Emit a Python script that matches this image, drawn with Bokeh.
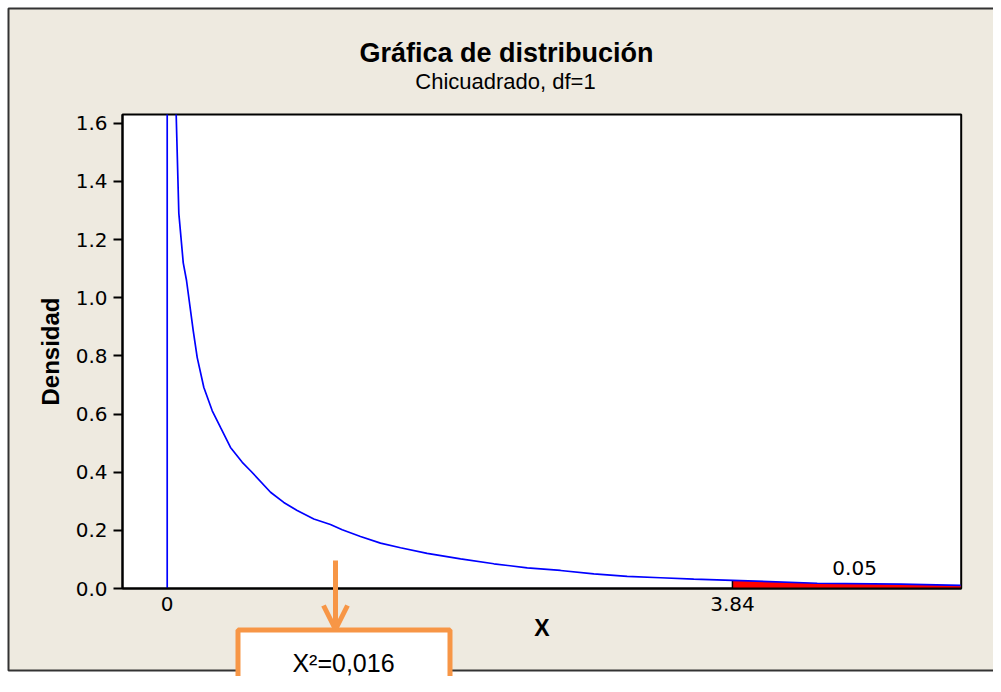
from bokeh.plotting import figure
from bokeh.models import (Range1d, FixedTicker, BoxAnnotation, Label, Arrow, OpenHead)
from bokeh.core.properties import value
from bokeh.embed import file_html
from bokeh.resources import INLINE

# ---------------- data ----------------
TITLE = "Gráfica de distribución"
SUBTITLE = "Chicuadrado, df=1"
X_LABEL = "X"
Y_LABEL = "Densidad"

CURVE_X = [0.061, 0.079, 0.109, 0.131, 0.177, 0.204, 0.249, 0.306, 0.363, 0.430,
           0.510, 0.566, 0.702, 0.792, 0.883, 0.996, 1.109, 1.189, 1.313, 1.449,
           1.585, 1.766, 1.993, 2.219, 2.446, 2.672, 2.898, 3.125, 3.351, 3.577,
           3.84, 4.416, 4.982, 5.39]
CURVE_Y = [1.63, 1.29, 1.12, 1.06, 0.886, 0.794, 0.691, 0.611, 0.553, 0.485,
           0.434, 0.405, 0.331, 0.296, 0.268, 0.239, 0.220, 0.202, 0.179, 0.156,
           0.140, 0.121, 0.102, 0.085, 0.071, 0.062, 0.050, 0.042, 0.037, 0.032,
           0.028, 0.018, 0.015, 0.011]

CRITICAL = 3.84
TAIL_PROB = "0.05"
TAIL_LABEL_X = 4.67
TAIL_LABEL_Y = 0.07
ZERO_LINE_X = [0, 0]
ZERO_LINE_Y = [0, 1.63]

X_TICKS = [0, 3.84]
X_TICK_LABELS = ["0", "3.84"]
Y_TICKS = [0.0, 0.2, 0.4, 0.6, 0.8, 1.0, 1.2, 1.4, 1.6]
Y_TICK_LABELS = ["0.0", "0.2", "0.4", "0.6", "0.8", "1.0", "1.2", "1.4", "1.6"]

NOTE_TEXT = "X²=0,016"

# ---------------- layout / style ----------------
W, H = 993, 676
X0_PX, X_SCALE = 166.7, 147.2      # pixel of x=0, pixels per unit
Y0_PX, Y_SCALE = 588.0, 290.8      # pixel of y=0, pixels per unit
BEIGE = "#EEEAE0"
ORANGE = "#F79646"
FONT = "Liberation Sans"
TICK_FONT = "DejaVu Sans"


def X(px):
    return (px - X0_PX) / X_SCALE


def Y(py):
    return (Y0_PX - py) / Y_SCALE


PLOT_X0, PLOT_X1 = X(122), X(960.7)
PLOT_Y0, PLOT_Y1 = 0.0, Y(114)

p = figure(width=W, height=H, output_backend="svg", toolbar_location=None,
           x_range=Range1d(X(0), X(W)), y_range=Range1d(Y(H), Y(0)),
           min_border=0, min_border_left=0, min_border_right=0,
           min_border_top=0, min_border_bottom=0)
p.border_fill_color = "white"
p.background_fill_color = "white"
p.outline_line_color = None
p.grid.visible = False

# beige panel with dark border, then white plot area
p.add_layout(BoxAnnotation(left=X(8), right=X(1030), top=Y(8), bottom=Y(670),
                           fill_color=BEIGE, fill_alpha=1, line_color="#333333",
                           line_width=2, line_alpha=1, level="underlay"))
p.add_layout(BoxAnnotation(left=PLOT_X0, right=PLOT_X1, top=PLOT_Y1, bottom=PLOT_Y0,
                           fill_color="white", fill_alpha=1, line_color="black",
                           line_width=2, line_alpha=1, level="underlay"))

# axes
for ax in (p.xaxis[0], p.yaxis[0]):
    ax.axis_line_color = "black"
    ax.axis_line_width = 2
    ax.major_tick_line_color = "black"
    ax.major_tick_line_width = 2
    ax.minor_tick_line_color = None
    ax.major_label_text_font = TICK_FONT
    ax.major_label_text_font_size = "20px"
    ax.major_label_text_color = "black"
    ax.axis_label_text_font = FONT
    ax.axis_label_text_font_style = "bold"
    ax.axis_label_text_color = "black"

p.yaxis.fixed_location = PLOT_X0
p.yaxis.bounds = (PLOT_Y0, PLOT_Y1)
p.yaxis.ticker = FixedTicker(ticks=Y_TICKS)
p.yaxis.major_label_overrides = {t: l for t, l in zip(Y_TICKS, Y_TICK_LABELS)}
p.yaxis.major_tick_out = 9
p.yaxis.major_tick_in = 0
p.yaxis.major_label_standoff = 6
p.yaxis.axis_label = Y_LABEL
p.yaxis.axis_label_text_font_size = "24px"
p.yaxis.axis_label_standoff = 9

p.xaxis.fixed_location = PLOT_Y0
p.xaxis.bounds = (PLOT_X0, PLOT_X1)
p.xaxis.ticker = FixedTicker(ticks=X_TICKS)
p.xaxis.major_label_overrides = {t: l for t, l in zip(X_TICKS, X_TICK_LABELS)}
p.xaxis.major_tick_out = 0
p.xaxis.major_tick_in = 0
p.xaxis.major_label_standoff = 8
p.xaxis.axis_label = X_LABEL
p.xaxis.axis_label_text_font_size = "23px"
p.xaxis.axis_label_standoff = 1

# tail area
tail_x = [x for x in CURVE_X if x >= CRITICAL]
tail_y = [y for x, y in zip(CURVE_X, CURVE_Y) if x >= CRITICAL]
p.varea(x=tail_x, y1=[0] * len(tail_x), y2=tail_y, fill_color="red")
p.segment(x0=[CRITICAL], y0=[0], x1=[CRITICAL], y1=[tail_y[0]],
          line_color="black", line_width=1.5)

# curve
p.line(ZERO_LINE_X, ZERO_LINE_Y, line_color="#0000FF", line_width=1.7)
p.line(CURVE_X, CURVE_Y, line_color="#0000FF", line_width=1.7)

p.text(x=[TAIL_LABEL_X], y=[TAIL_LABEL_Y], text=[TAIL_PROB],
       text_font=value(TICK_FONT), text_font_size="20px",
       text_align="center", text_baseline="middle", text_color="black")

# title
p.add_layout(Label(x=X(506), y=Y(52), text=TITLE, text_font=FONT,
                   text_font_size="27px", text_font_style="bold",
                   text_align="center", text_baseline="middle", text_color="black"))
p.add_layout(Label(x=X(505), y=Y(81), text=SUBTITLE, text_font=FONT,
                   text_font_size="22px", text_align="center",
                   text_baseline="middle", text_color="black"))

# orange note box and arrow
p.add_layout(BoxAnnotation(left=X(237.5), right=X(449.5), top=Y(629.5),
                           bottom=Y(720), fill_color="white", fill_alpha=1,
                           line_color=ORANGE, line_width=5, line_alpha=1,
                           level="overlay"))
p.add_layout(Arrow(x_start=X(335), y_start=Y(560), x_end=X(335), y_end=Y(629),
                   line_color=ORANGE, line_width=5,
                   end=OpenHead(size=24, line_color=ORANGE, line_width=5),
                   level="overlay"))
p.add_layout(Label(x=X(343), y=Y(662), text=NOTE_TEXT, text_font=FONT,
                   text_font_size="25px", text_align="center",
                   text_baseline="middle", text_color="black", level="overlay"))

open("out.html", "w").write(file_html(p, INLINE))
